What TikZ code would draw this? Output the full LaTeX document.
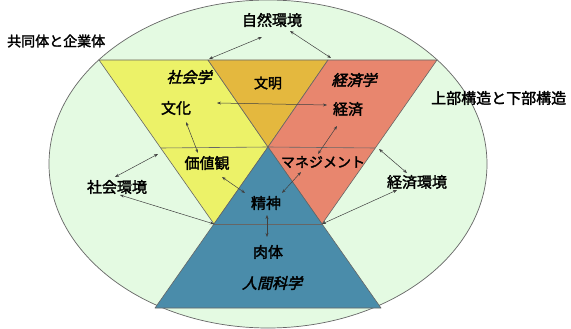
\documentclass[tikz,border=0pt]{standalone}
\usepackage{fontspec}
\newfontfamily\jp{Noto Sans CJK JP}[FakeBold=2]
\newfontfamily\jpit{Noto Sans CJK JP}[FakeSlant=0.25,FakeBold=2.5]
\usetikzlibrary{arrows.meta}
\definecolor{bgGreen}{RGB}{228,250,226}
\definecolor{yelFill}{RGB}{236,242,104}
\definecolor{goldFill}{RGB}{228,184,62}
\definecolor{redFill}{RGB}{232,134,110}
\definecolor{blueFill}{RGB}{74,140,170}
\begin{document}
\begin{tikzpicture}[x=1pt,y=-1pt,
  lbl/.style={font=\jp\fontsize{14}{14}\selectfont, inner sep=0pt, text=black},
  big/.style={font=\jp\fontsize{15}{15}\selectfont, inner sep=0pt, text=black},
  ital/.style={font=\jpit\fontsize{15}{15}\selectfont, inner sep=0pt, text=black},
  dbl/.style={{Stealth[length=4pt,width=3pt]}-{Stealth[length=4pt,width=3pt]}, line width=0.5pt, draw=black!75},
  region/.style={draw=black!60, line width=0.6pt, line join=round}]
\useasboundingbox (0,0) rectangle (571,329);
\fill[white] (0,0) rectangle (571,329);
% background ellipse
\draw[fill=bgGreen, draw=black!60, line width=0.7pt] (268,164) ellipse [x radius=219pt, y radius=164pt];
% key points
\coordinate (TL) at (99,60);
\coordinate (G1) at (208,60);
\coordinate (G2) at (328,60);
\coordinate (TR) at (437,60);
\coordinate (A) at (268,147);
\coordinate (YB) at (214,224);
\coordinate (RB) at (322,224);
\coordinate (BL) at (155,308);
\coordinate (BR) at (381,308);
\coordinate (YL) at (160.7,148);
\coordinate (RR) at (375.3,148);
% regions
\draw[region, fill=yelFill] (TL) -- (G1) -- (A) -- (YB) -- cycle;
\draw[region, fill=goldFill] (G1) -- (G2) -- (A) -- cycle;
\draw[region, fill=redFill] (G2) -- (TR) -- (RB) -- (A) -- cycle;
\draw[region, fill=blueFill] (A) -- (BL) -- (BR) -- cycle;
\draw[region] (YL) -- (A) -- (RR);
\draw[region] (YB) -- (RB);
% labels
\node[lbl, anchor=west] (kyodo) at (7,41) {共同体と企業体};
\node[big, anchor=west] (jobu) at (431,98) {上部構造と下部構造};
\node[big] (shizen) at (272,20) {自然環境};
\node[ital] (shakaigaku) at (189,77) {社会学};
\node[lbl] (bunmei) at (268,83) {文明};
\node[ital] (keizaigaku) at (354,80) {経済学};
\node[big] (bunka) at (176,108) {文化};
\node[big] (keizai) at (348,109) {経済};
\node[big] (kachikan) at (207,163) {価値観};
\node[lbl] (mane) at (323,162) {マネジメント};
\node[big] (shakaikankyo) at (117,187) {社会環境};
\node[big] (keizaikankyo) at (417,182) {経済環境};
\node[big] (seishin) at (266,203) {精神};
\node[big] (nikutai) at (268,252) {肉体};
\node[ital] (ningen) at (272,283) {人間科学};
% arrow end points
\coordinate (n1a) at (262,37);  \coordinate (n1b) at (209,59);
\coordinate (n2a) at (290,31);  \coordinate (n2b) at (331,58);
\coordinate (h1) at (217,103);  \coordinate (h2) at (327,105);
\coordinate (b1) at (186,122);  \coordinate (b2) at (198,153);
\coordinate (k1) at (337,126);  \coordinate (k2) at (318,154);
\coordinate (s1) at (115,177);  \coordinate (s2) at (158,154);
\coordinate (s3) at (120,195);
\coordinate (v1) at (222,177);  \coordinate (v2) at (245,193);
\coordinate (m1) at (301,172);  \coordinate (m2) at (282,193);
\coordinate (e1) at (407,173);  \coordinate (e2) at (379,149);
\coordinate (e3) at (397,190);
\coordinate (p1) at (267,215);  \coordinate (p2) at (267,237);
% arrows
\draw[dbl] (n1a) -- (n1b);
\draw[dbl] (n2a) -- (n2b);
\draw[dbl] (h1) -- (h2);
\draw[dbl] (b1) -- (b2);
\draw[dbl] (k1) -- (k2);
\draw[dbl] (s1) -- (s2);
\draw[dbl] (s3) -- (YB);
\draw[dbl] (v1) -- (v2);
\draw[dbl] (m1) -- (m2);
\draw[dbl] (e1) -- (e2);
\draw[dbl] (e3) -- (RB);
\draw[dbl] (p1) -- (p2);
\end{tikzpicture}
\end{document}
